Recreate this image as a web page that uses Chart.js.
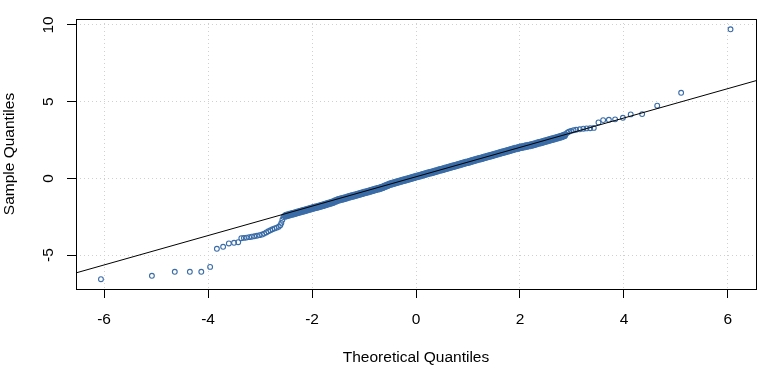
<!DOCTYPE html>
<html>
<head>
<meta charset="utf-8">
<script src="https://cdn.jsdelivr.net/npm/chart.js@4/dist/chart.umd.min.js"></script>
<style>
  html, body { margin: 0; padding: 0; background: #ffffff; }
  #wrap { width: 768px; height: 377px; }
</style>
</head>
<body>
<div id="wrap"><canvas id="c" width="768" height="377"></canvas></div>
<script>
// ---- Data ----
const xTicks = [-6, -4, -2, 0, 2, 4, 6];
const yTicks = [-5, 0, 5, 10];
const xTitle = "Theoretical Quantiles";
const yTitle = "Sample Quantiles";

// lower tail
const theoreticalLow = [-6.06, -5.08, -4.64, -4.35, -4.13, -3.96, -3.83, -3.71, -3.60, -3.50, -3.42,
  -3.36, -3.31, -3.26, -3.21, -3.16, -3.11, -3.06, -3.01, -2.96, -2.92, -2.88, -2.84, -2.80,
  -2.76, -2.72, -2.68, -2.64, -2.61, -2.59, -2.57, -2.55, -2.53];
const sampleLow = [-6.57, -6.35, -6.09, -6.09, -6.09, -5.77, -4.59, -4.46, -4.24, -4.20, -4.16,
  -3.90, -3.88, -3.86, -3.83, -3.80, -3.77, -3.74, -3.70, -3.66, -3.60, -3.52, -3.45, -3.38,
  -3.32, -3.26, -3.21, -3.15, -3.05, -2.90, -2.70, -2.52, -2.45];

// dense central band
const theoreticalMid = [-2.50, -2.45, -2.40, -2.35, -2.30, -2.25, -2.20, -2.15, -2.10, -2.05,
  -2.00, -1.95, -1.90, -1.85, -1.80, -1.75, -1.70, -1.65, -1.60, -1.55,
  -1.50, -1.45, -1.40, -1.35, -1.30, -1.25, -1.20, -1.15, -1.10, -1.05,
  -1.00, -0.95, -0.90, -0.85, -0.80, -0.75, -0.70, -0.65, -0.60, -0.55,
  -0.50, -0.45, -0.40, -0.35, -0.30, -0.25, -0.20, -0.15, -0.10, -0.05,
  0.00, 0.05, 0.10, 0.15, 0.20, 0.25, 0.30, 0.35, 0.40, 0.45,
  0.50, 0.55, 0.60, 0.65, 0.70, 0.75, 0.80, 0.85, 0.90, 0.95,
  1.00, 1.05, 1.10, 1.15, 1.20, 1.25, 1.30, 1.35, 1.40, 1.45,
  1.50, 1.55, 1.60, 1.65, 1.70, 1.75, 1.80, 1.85, 1.90, 1.95,
  2.00, 2.05, 2.10, 2.15, 2.20, 2.25, 2.30, 2.35, 2.40, 2.45,
  2.50, 2.55, 2.60, 2.65, 2.70, 2.75, 2.80, 2.85];
const sampleMid = [-2.43, -2.38, -2.33, -2.29, -2.24, -2.19, -2.14, -2.10, -2.05, -2.00,
  -1.95, -1.90, -1.86, -1.81, -1.76, -1.71, -1.66, -1.61, -1.55, -1.48,
  -1.41, -1.36, -1.32, -1.27, -1.22, -1.17, -1.13, -1.08, -1.03, -0.98,
  -0.93, -0.89, -0.84, -0.79, -0.74, -0.69, -0.65, -0.59, -0.52, -0.45,
  -0.38, -0.33, -0.28, -0.23, -0.18, -0.13, -0.09, -0.04, 0.01, 0.06,
  0.11, 0.15, 0.20, 0.25, 0.30, 0.35, 0.39, 0.44, 0.49, 0.54,
  0.58, 0.63, 0.68, 0.73, 0.78, 0.82, 0.87, 0.92, 0.97, 1.02,
  1.06, 1.11, 1.16, 1.21, 1.26, 1.30, 1.35, 1.40, 1.45, 1.49,
  1.54, 1.59, 1.64, 1.69, 1.73, 1.78, 1.83, 1.88, 1.93, 1.97,
  2.02, 2.05, 2.09, 2.12, 2.16, 2.20, 2.25, 2.30, 2.34, 2.39,
  2.44, 2.49, 2.54, 2.58, 2.63, 2.68, 2.73, 2.80];

// upper tail
const theoreticalHigh = [2.88, 2.91, 2.94, 2.98, 3.03, 3.08, 3.15, 3.22, 3.28, 3.35, 3.42,
  3.51, 3.60, 3.71, 3.83, 3.98, 4.13, 4.35, 4.64, 5.10, 6.05];
const sampleHigh = [2.88, 2.98, 3.04, 3.09, 3.14, 3.17, 3.20, 3.24, 3.26, 3.27, 3.29,
  3.65, 3.80, 3.82, 3.85, 3.95, 4.17, 4.19, 4.74, 5.58, 9.72];

// reference line (qqline) end points at the plot edges
const refLineX = [-6.54, 6.54];
const refLineY = [-6.16, 6.37];

// axis ranges
const xRange = [-6.54, 6.54];
const yRange = [-7.21, 10.39];

// ---- Build chart ----
const toPts = (xs, ys) => xs.map((x, i) => ({ x: x, y: ys[i] }));
const tailPts = toPts(theoreticalLow, sampleLow).concat(toPts(theoreticalHigh, sampleHigh));
const bandPts = toPts(theoreticalMid, sampleMid);
const linePts = toPts(refLineX, refLineY);

const FONT = '15.5px "Liberation Sans", Arial, Helvetica, sans-serif';
const POINT_COLOR = '#3a6ca7';

const rStyle = {
  id: 'rStyle',
  afterDraw(chart) {
    const ctx = chart.ctx;
    const a = chart.chartArea;
    const xs = chart.scales.x, ys = chart.scales.y;
    ctx.save();
    ctx.strokeStyle = '#000';
    ctx.lineWidth = 1;
    ctx.setLineDash([]);
    ctx.strokeRect(Math.round(a.left) + 0.5, Math.round(a.top) + 0.5,
      Math.round(a.right - a.left), Math.round(a.bottom - a.top));
    ctx.fillStyle = '#000';
    ctx.font = FONT;
    ctx.textAlign = 'center';
    ctx.textBaseline = 'alphabetic';
    xTicks.forEach(v => {
      ctx.fillText(String(v), xs.getPixelForValue(v), a.bottom + 34.5);
    });
    ctx.fillText(xTitle, (a.left + a.right) / 2, a.bottom + 73);
    yTicks.forEach(v => {
      ctx.save();
      ctx.translate(a.left - 23.5, ys.getPixelForValue(v));
      ctx.rotate(-Math.PI / 2);
      ctx.textAlign = 'center';
      ctx.fillText(String(v), 0, 0);
      ctx.restore();
    });
    ctx.save();
    ctx.translate(a.left - 62, (a.top + a.bottom) / 2);
    ctx.rotate(-Math.PI / 2);
    ctx.textAlign = 'center';
    ctx.fillText(yTitle, 0, 0);
    ctx.restore();
    ctx.restore();
  }
};

const gridOpts = {
  color: '#d0d0d0',
  lineWidth: 1,
  tickColor: '#000000',
  tickLength: 9,
  tickWidth: 1
};

new Chart(document.getElementById('c'), {
  type: 'scatter',
  data: {
    datasets: [
      {
        type: 'line',
        data: linePts,
        borderColor: '#000000',
        borderWidth: 1,
        pointRadius: 0,
        fill: false,
        tension: 0
      },
      {
        type: 'scatter',
        data: bandPts,
        pointStyle: 'circle',
        pointRadius: 3.5,
        borderWidth: 1,
        borderColor: POINT_COLOR,
        backgroundColor: POINT_COLOR
      },
      {
        type: 'scatter',
        data: tailPts,
        pointStyle: 'circle',
        pointRadius: 2.4,
        borderWidth: 1.1,
        borderColor: POINT_COLOR,
        backgroundColor: 'rgba(0,0,0,0)'
      }
    ]
  },
  options: {
    responsive: false,
    animation: false,
    events: [],
    devicePixelRatio: 1,
    layout: { padding: { top: 19, right: 12, left: 0, bottom: 0 } },
    plugins: {
      legend: { display: false },
      tooltip: { enabled: false },
      title: { display: false }
    },
    scales: {
      x: {
        type: 'linear',
        min: xRange[0],
        max: xRange[1],
        afterBuildTicks: s => { s.ticks = xTicks.map(v => ({ value: v })); },
        afterFit: s => { s.height = 88; },
        ticks: { display: false },
        grid: gridOpts,
        border: { display: false, dash: [1, 3] }
      },
      y: {
        type: 'linear',
        min: yRange[0],
        max: yRange[1],
        afterBuildTicks: s => { s.ticks = yTicks.map(v => ({ value: v })); },
        afterFit: s => { s.width = 76; },
        ticks: { display: false },
        grid: gridOpts,
        border: { display: false, dash: [1, 3] }
      }
    }
  },
  plugins: [rStyle]
});
</script>
</body>
</html>
